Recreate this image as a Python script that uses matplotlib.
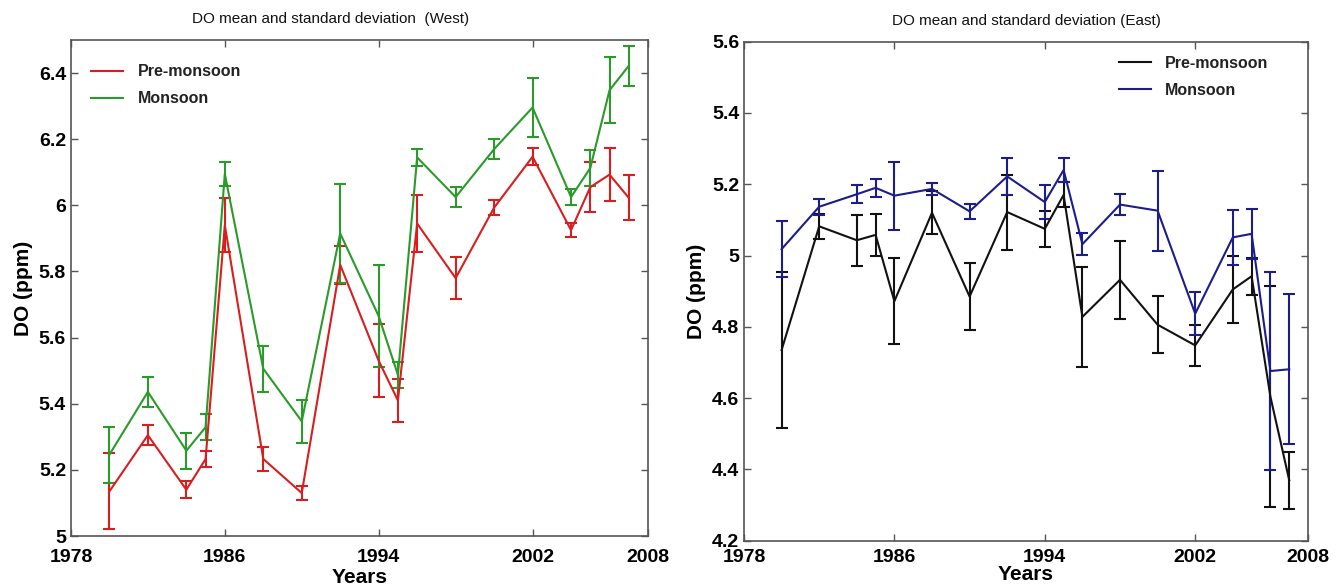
import matplotlib
matplotlib.use("Agg")
import matplotlib.pyplot as plt
from matplotlib.ticker import FuncFormatter

plt.rcParams['font.family'] = ['Liberation Sans', 'DejaVu Sans']

years = [1980, 1982, 1984, 1985, 1986, 1988, 1990, 1992, 1994, 1995,
         1996, 1998, 2000, 2002, 2004, 2005, 2006, 2007]

# West
west_pre = [5.135, 5.305, 5.14, 5.233, 5.94, 5.233, 5.13, 5.82, 5.53, 5.41,
            5.945, 5.78, 5.993, 6.147, 5.925, 6.055, 6.093, 6.023]
west_pre_sd = [0.115, 0.03, 0.025, 0.025, 0.082, 0.035, 0.02, 0.057, 0.11, 0.065,
               0.085, 0.063, 0.023, 0.025, 0.022, 0.075, 0.08, 0.068]
west_mon = [5.246, 5.436, 5.258, 5.329, 6.095, 5.506, 5.347, 5.915, 5.665, 5.487,
            6.145, 6.025, 6.17, 6.296, 6.025, 6.113, 6.348, 6.422]
west_mon_sd = [0.085, 0.045, 0.055, 0.04, 0.035, 0.07, 0.065, 0.15, 0.155, 0.04,
               0.025, 0.03, 0.03, 0.09, 0.025, 0.055, 0.1, 0.06]

# East
east_pre = [4.735, 5.082, 5.043, 5.058, 4.872, 5.12, 4.885, 5.122, 5.075, 5.17,
            4.828, 4.932, 4.806, 4.748, 4.905, 4.942, 4.604, 4.37]
east_pre_sd = [0.22, 0.035, 0.072, 0.06, 0.12, 0.06, 0.095, 0.105, 0.05, 0.035,
               0.14, 0.11, 0.08, 0.058, 0.095, 0.052, 0.31, 0.08]
east_mon = [5.018, 5.137, 5.172, 5.19, 5.168, 5.187, 5.124, 5.222, 5.15, 5.24,
            5.032, 5.143, 5.126, 4.837, 5.051, 5.061, 4.676, 4.681]
east_mon_sd = [0.078, 0.022, 0.025, 0.025, 0.095, 0.017, 0.021, 0.052, 0.048, 0.035,
               0.03, 0.03, 0.112, 0.06, 0.077, 0.07, 0.277, 0.21]

xticks = [1978, 1986, 1994, 2002, 2008]
labels = ["Pre-monsoon", "Monsoon"]

fig = plt.figure(figsize=(13.41, 5.88), dpi=100)
ax1 = fig.add_axes([0.0529, 0.0884, 0.4303, 0.8435])
ax2 = fig.add_axes([0.5548, 0.0804, 0.4206, 0.8487])

fmt = FuncFormatter(lambda v, p: "%g" % round(v, 2))


def panel(ax, pre, pre_sd, mon, mon_sd, c_pre, c_mon, ylim, yticks, title, tx,
          legloc, anchor, xpad, lpad):
    h1 = ax.errorbar(years, pre, yerr=pre_sd, color=c_pre, lw=1.5, elinewidth=1.5,
                     capsize=4, capthick=1.5)
    h2 = ax.errorbar(years, mon, yerr=mon_sd, color=c_mon, lw=1.5, elinewidth=1.5,
                     capsize=4, capthick=1.5)
    ax.set_xlim(1978, 2008)
    ax.set_ylim(*ylim)
    ax.set_xticks(xticks)
    ax.set_yticks(yticks)
    ax.yaxis.set_major_formatter(fmt)
    ax.tick_params(direction="in", top=True, right=True, length=5, width=1,
                   color="#555555", labelsize=14)
    ax.tick_params(axis="x", pad=xpad)
    for lab in ax.get_xticklabels() + ax.get_yticklabels():
        lab.set_fontweight("bold")
    for s in ax.spines.values():
        s.set_color("#555555")
        s.set_linewidth(1.2)
    ax.set_xlabel("Years", fontsize=15, fontweight="bold", labelpad=lpad)
    ax.set_ylabel("DO (ppm)", fontsize=15, fontweight="bold", labelpad=4)
    ax.set_title(title, fontsize=11, x=tx, pad=12, color="#111111")
    leg = ax.legend([h1.lines[0], h2.lines[0]], labels, loc=legloc, bbox_to_anchor=anchor,
                    frameon=False, prop={"size": 11.5, "weight": "bold"},
                    handlelength=2.0, handletextpad=0.9, labelspacing=0.75)
    for t in leg.get_texts():
        t.set_color("#222222")


panel(ax1, west_pre, west_pre_sd, west_mon, west_mon_sd, "#d81e1e", "#2a9a2a",
      (5, 6.5), [5, 5.2, 5.4, 5.6, 5.8, 6, 6.2, 6.4],
      "DO mean and standard deviation  (West)", 0.45, "upper left", (0.01, 0.98), 9, 2)
panel(ax2, east_pre, east_pre_sd, east_mon, east_mon_sd, "#111111", "#1c1c8a",
      (4.2, 5.6), [4.2, 4.4, 4.6, 4.8, 5, 5.2, 5.4, 5.6],
      "DO mean and standard deviation (East)", 0.5, "upper right", (0.955, 1.0), 6, -1)

fig.savefig("out.png", dpi=100)
